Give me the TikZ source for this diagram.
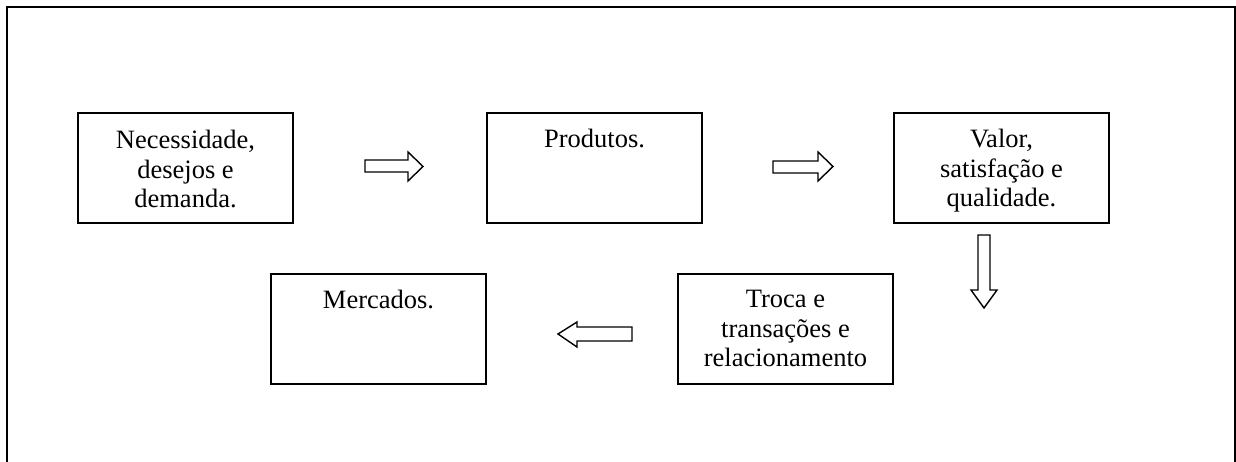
\documentclass[tikz,border=0pt]{standalone}
\usepackage{fontspec}
\setmainfont{Liberation Serif}
\begin{document}
\begin{tikzpicture}[x=1pt,y=-1pt,
  box/.style={draw, line width=2pt, minimum width=215pt, minimum height=110pt, inner sep=0pt},
  txt/.style={anchor=north, inner sep=0pt, align=center, font=\fontsize{26.5}{29.5}\selectfont},
  blockarrow/.style={draw, line width=1.4pt, line join=miter}]
\useasboundingbox (0,0) rectangle (1236,462);
\draw[line width=2.4pt] (7,470) -- (7,7) -- (1235,7) -- (1235,470);

\node[box] (b1) at (185.5,168) {};
\node[box] (b2) at (594.5,168) {};
\node[box] (b3) at (1001.5,168) {};
\node[box] (b4) at (785.5,329) {};
\node[box] (b5) at (378.5,329) {};

\node[txt] (t1) at ([yshift=-18pt]b1.north) {Necessidade,\\desejos e\\demanda.};
\node[txt] (t2) at ([yshift=-17pt]b2.north) {Produtos.};
\node[txt] (t3) at ([yshift=-17pt]b3.north) {Valor,\\satisfação e\\qualidade.};
\node[txt] (t4) at ([yshift=-17pt]b4.north) {Troca e\\transações e\\relacionamento};
\node[txt] (t5) at ([yshift=-17pt]b5.north) {Mercados.};

% block arrows
\draw[blockarrow] (365,160) -- (408,160) -- (408,152) -- (423,166.5) -- (408,181) -- (408,172) -- (365,172) -- cycle;
\draw[blockarrow] (773,161) -- (818,161) -- (818,152) -- (833,166.5) -- (818,181) -- (818,173) -- (773,173) -- cycle;
\draw[blockarrow] (978,235) -- (990,235) -- (990,290) -- (997,290) -- (984,308) -- (971,290) -- (978,290) -- cycle;
\draw[blockarrow] (632,327) -- (577,327) -- (577,322) -- (558,334) -- (577,347) -- (577,341) -- (632,341) -- cycle;
\end{tikzpicture}
\end{document}
